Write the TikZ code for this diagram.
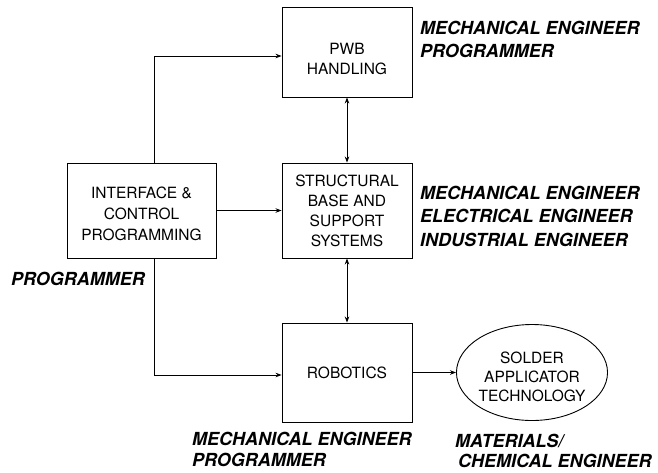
\documentclass[tikz,border=0pt]{standalone}
\usepackage{fontspec}
\setmainfont{TeX Gyre Heros}
\usetikzlibrary{arrows.meta,shapes.geometric}
\tikzset{
  box/.style={draw, line width=0.9pt, rectangle, minimum width=130pt, inner sep=0pt, align=center, font=\fontsize{15.5}{20}\selectfont},
  oval/.style={draw, line width=0.9pt, ellipse, minimum width=150pt, minimum height=96pt, inner sep=0pt, align=center, font=\fontsize{15.5}{19}\selectfont},
  role/.style={anchor=base west, inner sep=0pt, align=left, font=\fontsize{18}{23.5}\selectfont\bfseries\itshape},
  conn/.style={line width=0.8pt},
  arr/.style={conn, -{Stealth[length=6pt,width=4.5pt]}},
  darr/.style={conn, {Stealth[length=6pt,width=4.5pt]}-{Stealth[length=6pt,width=4.5pt]}},
}
\begin{document}
\begin{tikzpicture}[x=1pt,y=-1pt]
\useasboundingbox[fill=white] (0,0) rectangle (658,472);
% boxes
\node[box, minimum height=90pt] (pwb) at (347,52) {\rule{0pt}{25pt}PWB\\HANDLING};
\node[box, minimum height=95pt] (struct) at (347,210.5) {STRUCTURAL\\BASE AND\\SUPPORT\\SYSTEMS};
\node[box, minimum height=99pt] (robot) at (347,372.5) {ROBOTICS};
\node[box, minimum width=149pt, minimum height=95pt, font=\fontsize{15.5}{21}\selectfont] (iface) at (141.5,210.5) {\rule{0pt}{18pt}INTERFACE \&\\CONTROL\\PROGRAMMING};
\node[oval] (solder) at (532,372.5) {\rule{0pt}{21pt}SOLDER\\APPLICATOR\\TECHNOLOGY};
% connectors
\coordinate (ttop) at (154,56);
\coordinate (tbot) at (154,375);
\draw[arr] (iface.north -| ttop) |- (pwb.west |- ttop);
\draw[arr] (iface.east) -- (struct.west);
\draw[arr] (iface.south -| tbot) |- (robot.west |- tbot);
\draw[darr] (pwb.south) -- (struct.north);
\draw[darr] (struct.south) -- (robot.north);
\draw[arr] (robot.east) -- (solder.west);
% role labels (anchored at the baseline of the last line)
\node[role] (r1) at (420,57.5) {MECHANICAL ENGINEER\\PROGRAMMER};
\node[role] (r2) at (420,246) {MECHANICAL ENGINEER\\ELECTRICAL ENGINEER\\INDUSTRIAL ENGINEER};
\node[role] (r3) at (11,285.5) {PROGRAMMER};
\node[role, font=\fontsize{18}{21}\selectfont\bfseries\itshape] (r4) at (192,466) {MECHANICAL ENGINEER\\PROGRAMMER};
\node[role, font=\fontsize{18}{20}\selectfont\bfseries\itshape] (r5) at (455,467.5) {MATERIALS/\\\hspace{3pt}CHEMICAL ENGINEER};
\end{tikzpicture}
\end{document}
